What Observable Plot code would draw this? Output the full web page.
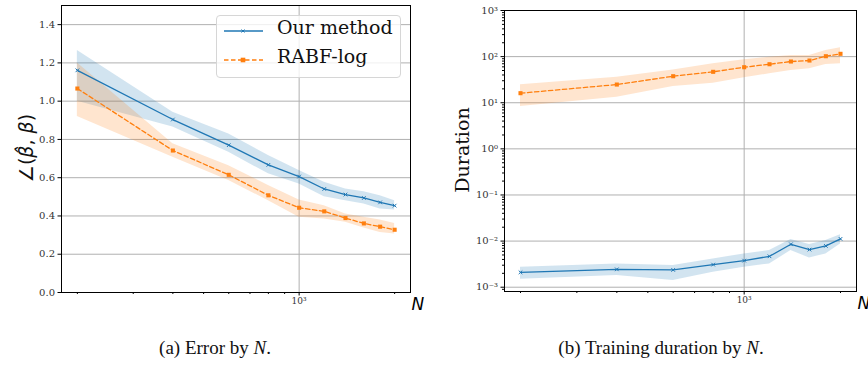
<!DOCTYPE html>
<html>
<head>
<meta charset="utf-8">
<script src="https://cdn.jsdelivr.net/npm/d3@7"></script>
<script src="https://cdn.jsdelivr.net/npm/@observablehq/plot@0.6"></script>
<style>
  html, body { margin: 0; padding: 0; background: #fff; }
  #fig { position: relative; width: 868px; height: 367px; overflow: hidden; background: #fff; }
  .panel { position: absolute; top: 0; }
  .ylab { position: absolute; white-space: nowrap; transform: translate(-50%, -50%) rotate(-90deg); color: #111; }
  .caption { position: absolute; font-family: "Liberation Serif", serif; font-size: 19px; color: #111; transform: translateX(-50%); white-space: nowrap; }
  .legend { position: absolute; left: 216px; top: 15px; width: 183px; height: 61px; border: 1px solid #d6d6d6; border-radius: 4px; background: rgba(255,255,255,0.8); }
  .legend .lab { position: absolute; left: 60px; font-family: "DejaVu Serif", serif; font-size: 19px; color: #111; line-height: 1; }
  .legend svg { position: absolute; left: 6px; }
</style>
</head>
<body>
<div id="fig"></div>
<script>
// Sample sizes
const N = [200, 400, 600, 800, 1000, 1200, 1400, 1600, 1800, 2000];

// Angle error ∠(β̂, β): mean with lower/upper band
const errOurs   = [1.161, 0.904, 0.770, 0.667, 0.606, 0.541, 0.512, 0.494, 0.471, 0.454];
const errOursLo = [1.000, 0.865, 0.733, 0.620, 0.567, 0.501, 0.480, 0.463, 0.437, 0.431];
const errOursHi = [1.265, 0.942, 0.829, 0.716, 0.637, 0.576, 0.541, 0.527, 0.506, 0.480];
const errRabf   = [1.066, 0.742, 0.615, 0.508, 0.443, 0.424, 0.389, 0.361, 0.344, 0.328];
const errRabfLo = [0.920, 0.707, 0.585, 0.480, 0.393, 0.384, 0.367, 0.337, 0.314, 0.306];
const errRabfHi = [1.199, 0.777, 0.663, 0.559, 0.484, 0.454, 0.410, 0.393, 0.379, 0.361];

// Training duration: mean with lower/upper band
const durOurs   = [0.00210, 0.00244, 0.00237, 0.00309, 0.00377, 0.00468, 0.00853, 0.00654, 0.00787, 0.01117];
const durOursLo = [0.00149, 0.00179, 0.00139, 0.00210, 0.00270, 0.00320, 0.00622, 0.00431, 0.00527, 0.00869];
const durOursHi = [0.00270, 0.00320, 0.00294, 0.00410, 0.00527, 0.00622, 0.01080, 0.00840, 0.01030, 0.01380];
const durRabf   = [16.1, 24.8, 37.6, 46.8, 58.9, 68.4, 78.3, 82.2, 102, 115];
const durRabfLo = [8.27, 13.1, 22.4, 26.5, 34.7, 42.4, 49.9, 54.3, 67.5, 69.7];
const durRabfHi = [24.4, 35.8, 51.0, 69.7, 85.0, 97.0, 106, 106, 135, 155];

// Axis ticks
const errTicks = [0, 0.2, 0.4, 0.6, 0.8, 1.0, 1.2, 1.4];
const durTicks = [1e-3, 1e-2, 1e-1, 1e0, 1e1, 1e2, 1e3];
const nMajor = [1000];
const nMinor = [200, 300, 400, 500, 600, 700, 800, 900, 2000];

const series = ["Our method", "RABF-log"];
const colors = ["#1f77b4", "#ff7f0e"];

function rows(mean, lo, hi) {
  return N.map((n, i) => ({n, v: mean[i], lo: lo[i], hi: hi[i]}));
}
const sup = {"-": "⁻", "0": "⁰", "1": "¹", "2": "²", "3": "³", "4": "⁴", "5": "⁵", "6": "⁶", "7": "⁷", "8": "⁸", "9": "⁹"};
const pow10 = d => "10" + String(Math.round(Math.log10(d))).split("").map(c => sup[c]).join("");

const xScale = {type: "log", domain: [10 ** 2.25103, 10 ** 3.35103]};
const gridStyle = {stroke: "#b0b0b0", strokeOpacity: 1, strokeWidth: 1};

function seriesMarks(ours, rabf) {
  return [
    Plot.areaY(ours, {x: "n", y1: "lo", y2: "hi", fill: colors[0], fillOpacity: 0.2, curve: "linear"}),
    Plot.areaY(rabf, {x: "n", y1: "lo", y2: "hi", fill: colors[1], fillOpacity: 0.2, curve: "linear"}),
    Plot.lineY(ours, {x: "n", y: "v", stroke: colors[0], strokeWidth: 1.3}),
    Plot.dot(ours, {x: "n", y: "v", symbol: "times", r: 1.8, stroke: colors[0], strokeWidth: 1}),
    Plot.lineY(rabf, {x: "n", y: "v", stroke: colors[1], strokeWidth: 1.3, strokeDasharray: "4.5,2.5"}),
    Plot.dot(rabf, {x: "n", y: "v", symbol: "square", r: 2.3, fill: colors[1], stroke: "none"})
  ];
}

function xAxes() {
  return [
    Plot.axisX(nMinor, {tickSize: 2, tickFormat: () => "", label: null, stroke: "#000"}),
    Plot.axisX(nMajor, {tickSize: 3.5, tickPadding: 2, tickFormat: pow10, label: null, stroke: "#000", fontSize: 9}),
    Plot.text(["N"], {text: d => d, frameAnchor: "bottom-right", textAnchor: "start", lineAnchor: "middle",
      dx: 1, dy: 12, fontFamily: "DejaVu Sans", fontStyle: "italic", fontSize: 17, fill: "#000"})
  ];
}

// (a) Error by N
const left = Plot.plot({
  width: 430, height: 315,
  marginLeft: 61, marginRight: 20, marginTop: 5, marginBottom: 23,
  style: {fontFamily: "DejaVu Serif", fontSize: "10px", color: "#333", background: "transparent", overflow: "visible"},
  x: xScale,
  y: {domain: [0, 1.5]},
  marks: [
    Plot.gridY(errTicks, gridStyle),
    Plot.gridX(nMajor, gridStyle),
    ...seriesMarks(rows(errOurs, errOursLo, errOursHi), rows(errRabf, errRabfLo, errRabfHi)),
    Plot.frame({stroke: "#000", strokeWidth: 1}),
    Plot.axisY(errTicks, {tickSize: 3.5, tickPadding: 3, tickFormat: d3.format(".1f"), label: null, stroke: "#000"}),
    ...xAxes()
  ]
});

// (b) Training duration by N
const durMinor = [];
for (let e = -4; e < 3; e++) for (let k = 2; k < 10; k++) {
  const v = k * 10 ** e;
  if (v > 10 ** -3.093 && v < 1000) durMinor.push(v);
}
const right = Plot.plot({
  width: 438, height: 315,
  marginLeft: 74, marginRight: 12, marginTop: 10, marginBottom: 24,
  style: {fontFamily: "DejaVu Serif", fontSize: "10px", color: "#333", background: "transparent", overflow: "visible"},
  x: xScale,
  y: {type: "log", domain: [10 ** -3.093, 1000]},
  marks: [
    Plot.gridY(durTicks, gridStyle),
    Plot.gridX(nMajor, gridStyle),
    ...seriesMarks(rows(durOurs, durOursLo, durOursHi), rows(durRabf, durRabfLo, durRabfHi)),
    Plot.frame({stroke: "#000", strokeWidth: 1}),
    Plot.axisY(durMinor, {tickSize: 2, tickFormat: () => "", label: null, stroke: "#000"}),
    Plot.axisY(durTicks, {tickSize: 3.5, tickPadding: 3, tickFormat: pow10, label: null, stroke: "#000"}),
    ...xAxes()
  ]
});

const fig = document.getElementById("fig");
left.classList.add("panel");  left.style.left = "0px";
right.classList.add("panel"); right.style.left = "430px";
fig.append(left, right);

// Axis titles
const yl = document.createElement("div");
yl.className = "ylab";
yl.style.cssText += "left:26px;top:148px;font-family:'DejaVu Sans',sans-serif;font-size:19px;";
yl.innerHTML = "∠(<i>β̂</i>, <i>β</i>)";
fig.append(yl);

const yr = document.createElement("div");
yr.className = "ylab";
yr.style.cssText += "left:462px;top:150px;font-family:'DejaVu Serif',serif;font-size:19px;";
yr.textContent = "Duration";
fig.append(yr);

// Legend
const legend = document.createElement("div");
legend.className = "legend";
series.forEach((name, i) => {
  const top = i === 0 ? 15 : 44;
  const sw = d3.create("svg").attr("width", 42).attr("height", 10).style("top", (top - 5) + "px");
  sw.append("line").attr("x1", 1).attr("x2", 40).attr("y1", 5).attr("y2", 5)
    .attr("stroke", colors[i]).attr("stroke-width", 1.3)
    .attr("stroke-dasharray", i === 1 ? "4.5,2.5" : null);
  if (i === 0) {
    sw.append("path").attr("d", "M18.5,3.5L21.5,6.5M18.5,6.5L21.5,3.5").attr("stroke", colors[i]).attr("stroke-width", 1);
  } else {
    sw.append("rect").attr("x", 17.7).attr("y", 2.7).attr("width", 4.6).attr("height", 4.6).attr("fill", colors[i]);
  }
  legend.append(sw.node());
  const lab = document.createElement("div");
  lab.className = "lab";
  lab.style.top = (top - 13) + "px";
  lab.textContent = name;
  legend.append(lab);
});
fig.append(legend);

// Captions
const capA = document.createElement("div");
capA.className = "caption";
capA.style.cssText += "left:215px;top:337px;";
capA.innerHTML = "(a) Error by <i>N</i>.";
const capB = document.createElement("div");
capB.className = "caption";
capB.style.cssText += "left:661px;top:337px;";
capB.innerHTML = "(b) Training duration by <i>N</i>.";
fig.append(capA, capB);
</script>
</body>
</html>
